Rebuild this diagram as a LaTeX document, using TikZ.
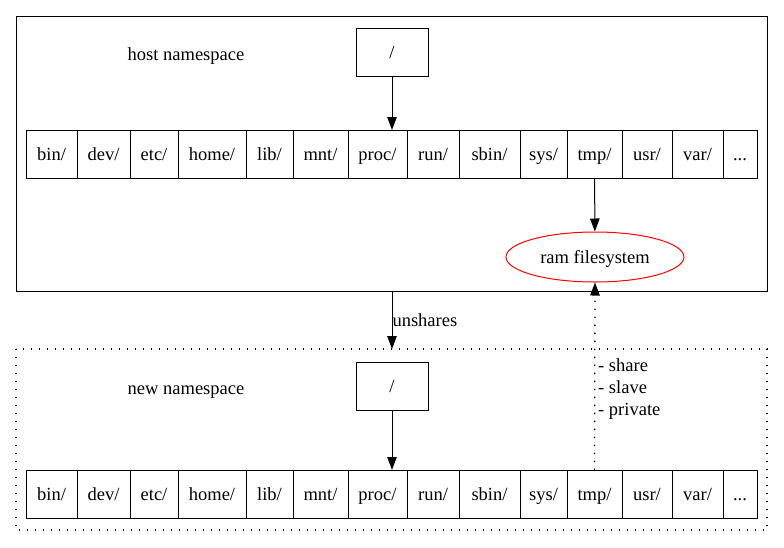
\documentclass[tikz,border=0pt]{standalone}
\usepackage{fontspec}
\setmainfont{Liberation Serif}
\usetikzlibrary{positioning,shapes.geometric,arrows.meta}

\tikzset{
  cell/.style={draw, line width=1, minimum height=48, inner sep=0pt, outer sep=0pt, text height=15, text depth=2},
  rootbox/.style={draw, line width=1, minimum width=72, minimum height=48, inner sep=0pt, text height=15, text depth=2},
  edge/.style={line width=1, -{Triangle[length=13,width=9.5]}},
  dots/.style={line width=1.3, dash pattern=on 1.3 off 6.7}
}

\begin{document}
\begin{tikzpicture}[x=1pt, y=-1pt, font=\fontsize{18.5}{22}\selectfont]
  \useasboundingbox (0,0) rectangle (784,547);

  % the two namespaces
  \draw[line width=1] (16,16) rectangle (767,291);
  \draw[dots] (16,349) rectangle (767,530);
  \coordinate (host) at (392,291);
  \coordinate (new) at (392,349);

  \node[text height=15, text depth=2] (hlabel) at (186,54) {host namespace};
  \node[text height=15, text depth=2] (nlabel) at (186,388) {new namespace};

  \node[rootbox] (h-root) at (392,52) {/};
  \node[rootbox] (n-root) at (392,386) {/};

  % directory rows
  \foreach \r/\y in {h/154,n/494} {
    \coordinate (\r-start) at (26,\y);
    \foreach \d/\w [remember=\d as \p (initially start)] in
      {bin/51,dev/53,etc/48,home/68,lib/47,mnt/55,proc/59,run/52,sbin/61,sys/47,tmp/55,usr/50,var/51}
      \node[cell, minimum width=\w, right=0pt of \r-\p] (\r-\d) {\d/};
    \node[cell, minimum width=34, right=0pt of \r-var] (\r-more) {...};
  }

  \node[ellipse, draw=red, line width=1, minimum width=178, minimum height=50, inner sep=0pt, text height=15, text depth=2] (ram) at (595,257) {ram filesystem};

  \draw[edge] (h-root) -- (h-root |- h-proc.north);
  \draw[edge] (n-root) -- (n-root |- n-proc.north);
  \draw[edge] (h-tmp) -- (ram);
  \draw[edge] (host) -- node[right, inner sep=0pt] {unshares} (new);
  \draw[edge, dots] (n-tmp.north) -- (ram.south);

  \node[anchor=north west, align=left, inner sep=0pt] (modes) at (598,358) {- share\\- slave\\- private};
\end{tikzpicture}
\end{document}
